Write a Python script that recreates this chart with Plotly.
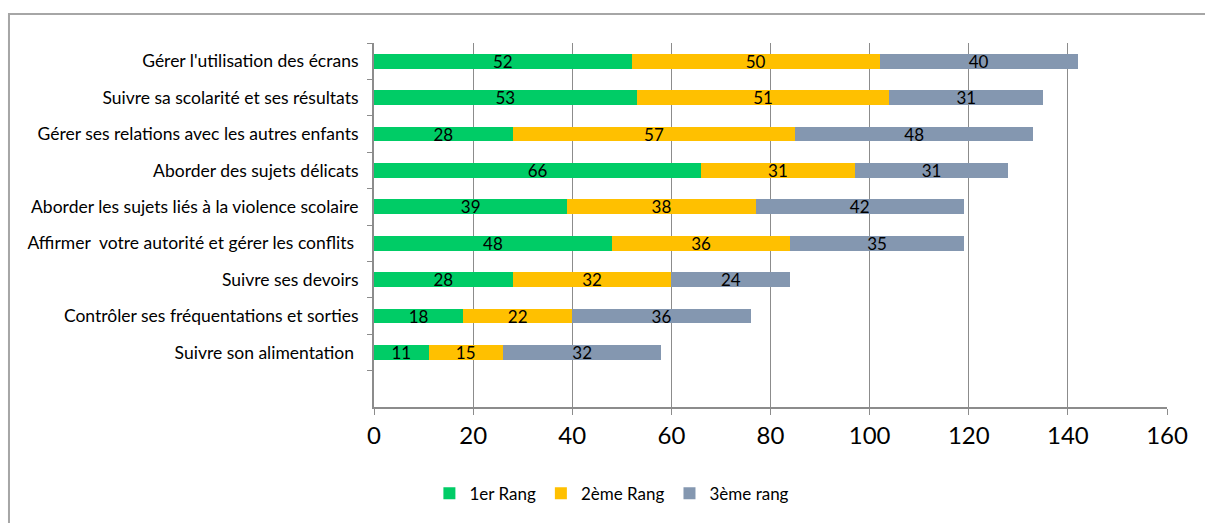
import plotly.graph_objects as go

categories = [
    "Gérer l'utilisation des écrans",
    "Suivre sa scolarité et ses résultats",
    "Gérer ses relations avec les autres enfants",
    "Aborder des sujets délicats",
    "Aborder les sujets liés à la violence scolaire",
    "Affirmer  votre autorité et gérer les conflits ",
    "Suivre ses devoirs",
    "Contrôler ses fréquentations et sorties",
    "Suivre son alimentation ",
    " ",
]
rang1 = [52, 53, 28, 66, 39, 48, 28, 18, 11, None]
rang2 = [50, 51, 57, 31, 38, 36, 32, 22, 15, None]
rang3 = [40, 31, 48, 31, 42, 35, 24, 36, 32, None]
series_names = ["1er Rang", "2ème Rang", "3ème rang"]
colors = ["#00CC66", "#FFC000", "#8497B0"]
x_ticks = [0, 20, 40, 60, 80, 100, 120, 140, 160]

FONT = "Lato"
fig = go.Figure()
for name, vals, col in zip(series_names, [rang1, rang2, rang3], colors):
    fig.add_trace(go.Bar(
        y=categories, x=vals, name=name, orientation="h",
        marker=dict(color=col, line=dict(width=0)),
        width=0.41,
        text=[("" if v is None else str(v)) for v in vals],
        textposition="inside", insidetextanchor="middle", textangle=0,
        textfont=dict(family=FONT, size=17, color="black"),
        constraintext="none",
    ))

fig.update_layout(
    barmode="stack",
    width=1205, height=523,
    margin=dict(l=374, r=38, t=43, b=115),
    paper_bgcolor="white", plot_bgcolor="white",
    font=dict(family=FONT, color="black"),
    uniformtext=dict(mode="show", minsize=17),
    legend=dict(orientation="h", x=0.30, xanchor="center", y=-0.235, yanchor="middle",
                font=dict(family=FONT, size=17), traceorder="normal", itemwidth=30),
    xaxis=dict(range=[0, 160], tickvals=x_ticks, showgrid=True, gridcolor="#8C8C8C",
               gridwidth=1, showline=True, linecolor="#8C8C8C", linewidth=2,
               ticks="outside", ticklen=6, tickcolor="#8C8C8C",
               tickfont=dict(family=FONT, size=24, color="black"), zeroline=False,
               fixedrange=True),
    yaxis=dict(categoryorder="array", categoryarray=categories, autorange="reversed",
               showline=True, linecolor="#8C8C8C", linewidth=2,
               ticks="outside", ticklen=5, tickcolor="#8C8C8C", tickson="boundaries",
               tickfont=dict(family=FONT, size=17.5, color="black"), showgrid=False,
               ticklabelstandoff=10),
    shapes=[dict(type="rect", xref="paper", yref="paper", x0=-0.4603, x1=1.06,
                 y0=-0.4, y1=1.0795, line=dict(color="#A6A6A6", width=2), layer="below")],
)

fig.write_html("out.html")
